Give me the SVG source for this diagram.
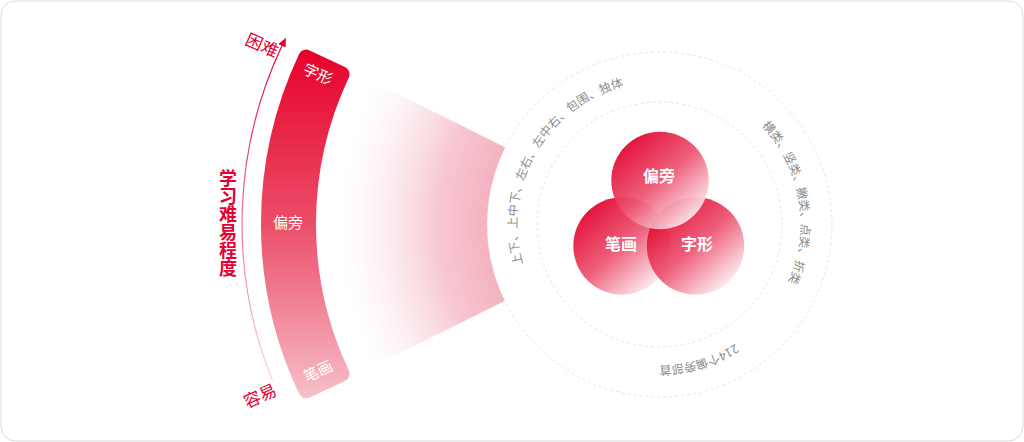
<svg xmlns="http://www.w3.org/2000/svg" width="1024" height="442" viewBox="0 0 1024 442">
  <defs>
    <style>
      .cjk { font-family: "Noto Sans CJK SC", "Noto Sans", sans-serif; }
      .wlabel { fill: #ffffff; font-size: 15px; text-anchor: middle; }
      .vlabel { fill: #ffffff; font-size: 16px; font-weight: bold; text-anchor: middle; }
      .rlabel { fill: #e60033; font-size: 17px; text-anchor: middle; }
      .arc-text { fill: #8c8c8c; font-size: 12px; text-anchor: middle; }
      .dashed { fill: none; stroke: #dddddd; stroke-width: 0.8; stroke-dasharray: 3 3; }
      .venn { opacity: 0.93; }
    </style>
    <linearGradient id="bandGrad" gradientUnits="userSpaceOnUse" x1="0" y1="46" x2="0" y2="402">
      <stop offset="0" stop-color="#e6002a"/>
      <stop offset="0.5" stop-color="#eb4e69"/>
      <stop offset="1" stop-color="#f6c2cc"/>
    </linearGradient>
    <linearGradient id="lineGrad" gradientUnits="userSpaceOnUse" x1="0" y1="40" x2="0" y2="382">
      <stop offset="0" stop-color="#e60033"/>
      <stop offset="1" stop-color="#fbd5dc"/>
    </linearGradient>
    <radialGradient id="fanGrad" gradientUnits="userSpaceOnUse" cx="659" cy="224" r="343">
      <stop offset="0.5" stop-color="#f4b2c0" stop-opacity="1"/>
      <stop offset="0.64" stop-color="#f5bcc8" stop-opacity="0.85"/>
      <stop offset="0.93" stop-color="#fbe3e8" stop-opacity="0"/>
    </radialGradient>
    <linearGradient id="vennGrad" x1="0.15" y1="0.1" x2="0.85" y2="0.9">
      <stop offset="0" stop-color="#e2002a"/>
      <stop offset="0.5" stop-color="#ec5371"/>
      <stop offset="1" stop-color="#fdf0f3"/>
    </linearGradient>
    <marker id="arrowHead" markerUnits="userSpaceOnUse" markerWidth="10" markerHeight="8" refX="0" refY="4" orient="auto">
      <path d="M0,0 L9,4 L0,8 Z" fill="#e60033"/>
    </marker>
    <path id="ringPath" d="M 659 82 A 142 142 0 1 1 659 366 A 142 142 0 1 1 659 82"/>
  </defs>

  <!-- frame -->
  <rect x="1" y="1" width="1022" height="440" rx="14" ry="14" fill="#ffffff" stroke="#d9d9d9" stroke-width="1"/>

  <!-- connectors -->
  <g id="connectors">
    <path id="fan" d="M 659 224 L 352 70.95 A 343 343 0 0 0 352 377.05 Z" fill="url(#fanGrad)"/>
    <path id="difficulty-axis" d="M 272.4 380.2 A 417 417 0 0 1 282 45.8" fill="none" stroke="url(#lineGrad)" stroke-width="1.2" marker-end="url(#arrowHead)"/>
  </g>

  <!-- difficulty band -->
  <g id="node-band">
    <path d="M 306.24 57.63 A 390 390 0 0 0 306.24 390.37 L 341.52 373.74 A 351 351 0 0 1 341.52 74.26 Z" fill="url(#bandGrad)" stroke="url(#bandGrad)" stroke-width="16" stroke-linejoin="round"/>
    <text class="cjk wlabel" transform="translate(318,74) rotate(24)" x="0" y="5.5">字形</text>
    <text class="cjk wlabel" x="288" y="227.5">偏旁</text>
    <text class="cjk wlabel" transform="translate(318,371) rotate(-24)" x="0" y="5.5">笔画</text>
  </g>

  <g id="node-axis-labels">
    <text class="cjk rlabel" transform="translate(262,45.5) rotate(24)" x="0" y="6">困难</text>
    <text class="cjk rlabel" transform="translate(260,396) rotate(-24)" x="0" y="6">容易</text>
    <text class="cjk" x="228" y="223.5" fill="#e60033" font-size="18" font-weight="bold" text-anchor="middle" style="writing-mode: vertical-rl;">学习难易程度</text>
  </g>

  <!-- ring -->
  <g id="node-ring">
    <circle cx="659.5" cy="224.5" r="172.5" fill="#ffffff"/>
    <circle class="dashed" cx="659.5" cy="224.5" r="172.5"/>
    <circle class="dashed" cx="659.5" cy="224.5" r="122.5"/>
    <text class="cjk arc-text"><textPath href="#ringPath" startOffset="742.2">上下、上中下、左右、左中右、包围、独体</textPath></text>
    <text class="cjk arc-text"><textPath href="#ringPath" startOffset="198.8">横类、竖类、撇类、点类、折类</textPath></text>
    <text class="cjk arc-text"><textPath href="#ringPath" startOffset="405.5">214个偏旁部首</textPath></text>
  </g>

  <!-- venn -->
  <g id="node-bihua">
    <circle class="venn" cx="622" cy="246" r="48.7" fill="url(#vennGrad)"/>
  </g>
  <g id="node-zixing">
    <circle class="venn" cx="695.5" cy="246" r="48.7" fill="url(#vennGrad)"/>
  </g>
  <g id="node-pianpang">
    <circle class="venn" cx="660" cy="180.5" r="48.7" fill="url(#vennGrad)"/>
  </g>
  <g id="venn-labels">
    <text class="cjk vlabel" x="659" y="182">偏旁</text>
    <text class="cjk vlabel" x="621" y="250">笔画</text>
    <text class="cjk vlabel" x="697" y="250">字形</text>
  </g>
</svg>
